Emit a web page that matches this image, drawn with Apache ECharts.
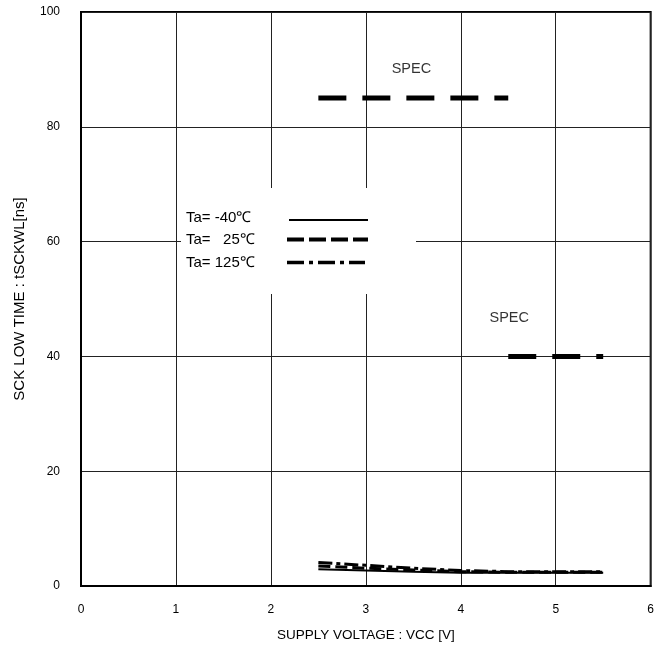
<!DOCTYPE html>
<html>
<head>
<meta charset="utf-8">
<script src="https://cdn.jsdelivr.net/npm/echarts@6/dist/echarts.min.js"></script>
<style>
  html, body { margin: 0; padding: 0; background: #fff; }
  #chart { width: 657px; height: 653px; }
</style>
</head>
<body>
<div id="chart"></div>
<script>
// Supply voltage sweep points (V)
const vcc = [2.5, 3.0, 3.5, 4.0, 4.5, 5.0, 5.5];
// tSCKWL (ns) for each ambient temperature
const tMinus40 = [2.9, 2.7, 2.5, 2.3, 2.3, 2.3, 2.3];
const t25 = [3.5, 3.1, 2.8, 2.5, 2.4, 2.4, 2.4];
const t125 = [4.1, 3.6, 3.1, 2.7, 2.5, 2.5, 2.5];
// Specification limits: [vcc start, vcc end, ns]
const specHigh = [2.5, 4.5, 85];
const specLow = [4.5, 5.5, 40];
// Axis ticks
const xTicks = [0, 1, 2, 3, 4, 5, 6];
const yTicks = [0, 20, 40, 60, 80, 100];
const legendNames = ['Ta= -40\u2103', 'Ta=   25\u2103', 'Ta= 125\u2103'];

const FONT = '"Liberation Sans", Arial, sans-serif';

function pairs(xs, ys) { return xs.map((x, i) => [x, ys[i]]); }

function specSeries(spec) {
  return {
    type: 'line',
    data: [[spec[0], spec[2]], [spec[1], spec[2]]],
    symbol: 'none',
    silent: true,
    lineStyle: { color: '#000', width: 5, type: [28, 16], cap: 'butt' },
    z: 3
  };
}

const chart = echarts.init(document.getElementById('chart'), null, { renderer: 'canvas' });

const option = {
  backgroundColor: '#fff',
  animation: false,
  grid: {
    left: 81, right: 5, top: 12, bottom: 67,
    show: true, borderColor: '#000', borderWidth: 2, backgroundColor: 'transparent'
  },
  xAxis: {
    type: 'value',
    min: xTicks[0], max: xTicks[xTicks.length - 1], interval: 1,
    name: 'SUPPLY VOLTAGE : VCC [V]',
    nameLocation: 'middle', nameGap: 42,
    nameTextStyle: { fontFamily: FONT, fontSize: 13.5, color: '#000' },
    axisLine: { show: true, lineStyle: { color: '#000', width: 2 } },
    axisTick: { show: false },
    axisLabel: { margin: 18, fontFamily: FONT, fontSize: 12, color: '#000' },
    splitLine: { show: true, lineStyle: { color: '#222', width: 1 } }
  },
  yAxis: {
    type: 'value',
    min: yTicks[0], max: yTicks[yTicks.length - 1], interval: 20,
    name: 'SCK LOW TIME : tSCKWL[ns]',
    nameLocation: 'middle', nameGap: 54,
    nameTextStyle: { fontFamily: FONT, fontSize: 15, color: '#000' },
    axisLine: { show: true, lineStyle: { color: '#000', width: 2 } },
    axisTick: { show: false },
    axisLabel: { margin: 21, fontFamily: FONT, fontSize: 12, color: '#000' },
    splitLine: { show: true, lineStyle: { color: '#222', width: 1 } }
  },
  series: [
    {
      name: legendNames[0], type: 'line', data: pairs(vcc, tMinus40), symbol: 'none',
      lineStyle: { color: '#000', width: 2, type: 'solid' }, z: 4
    },
    {
      name: legendNames[1], type: 'line', data: pairs(vcc, t25), symbol: 'none',
      lineStyle: { color: '#000', width: 3, type: [12, 5] }, z: 4
    },
    {
      name: legendNames[2], type: 'line', data: pairs(vcc, t125), symbol: 'none',
      lineStyle: { color: '#000', width: 3, type: [14, 4, 4, 4] }, z: 4
    },
    specSeries(specHigh),
    specSeries(specLow),
    {
      type: 'scatter', data: [[3.48, 90], [4.51, 46.7]], symbolSize: 0, silent: true,
      label: {
        show: true, position: 'inside', formatter: 'SPEC',
        fontFamily: FONT, fontSize: 14.5, color: '#000'
      }
    }
  ],
  graphic: [
    { type: 'rect', shape: { x: 181, y: 188, width: 235, height: 106 }, style: { fill: '#fff' }, z: 50 },
    { type: 'text', x: 186, y: 218, style: { text: legendNames[0], font: '15px ' + FONT, fill: '#000', textVerticalAlign: 'middle' }, z: 51 },
    { type: 'text', x: 186, y: 240, style: { text: legendNames[1], font: '15px ' + FONT, fill: '#000', textVerticalAlign: 'middle' }, z: 51 },
    { type: 'text', x: 186, y: 263, style: { text: legendNames[2], font: '15px ' + FONT, fill: '#000', textVerticalAlign: 'middle' }, z: 51 },
    { type: 'line', shape: { x1: 289, y1: 220, x2: 368, y2: 220 }, style: { stroke: '#000', lineWidth: 2 }, z: 51 },
    { type: 'line', shape: { x1: 287, y1: 239.5, x2: 368, y2: 239.5 }, style: { stroke: '#000', lineWidth: 4, lineDash: [17, 5] }, z: 51 },
    { type: 'line', shape: { x1: 287, y1: 262.5, x2: 365, y2: 262.5 }, style: { stroke: '#000', lineWidth: 3.5, lineDash: [17, 5, 4, 5] }, z: 51 }
  ]
};

chart.setOption(option);
</script>
</body>
</html>
